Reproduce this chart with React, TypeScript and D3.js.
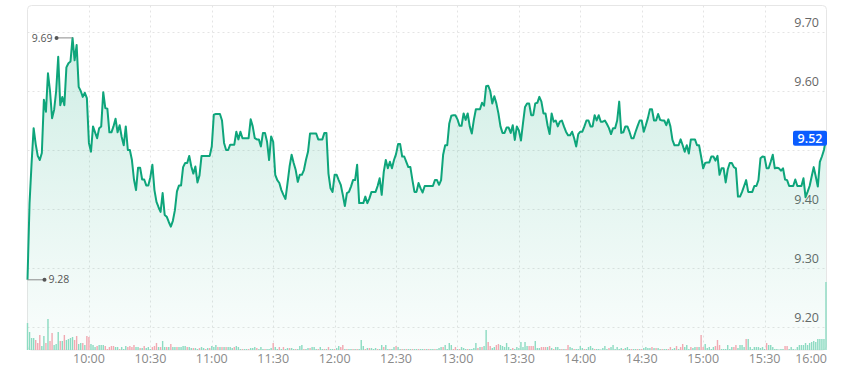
import React from 'react'
import * as d3 from 'd3'

// intraday 1-minute prices, 09:30 .. 16:00
const prices = [
  9.28, 9.41, 9.478, 9.537, 9.51, 9.49, 9.483, 9.495, 9.585, 9.565,
  9.63, 9.60, 9.554, 9.568, 9.60, 9.658, 9.576, 9.59, 9.576, 9.64,
  9.647, 9.65, 9.69, 9.652, 9.678, 9.607, 9.60, 9.59, 9.597, 9.588,
  9.512, 9.497, 9.54, 9.53, 9.52, 9.537, 9.54, 9.598, 9.571, 9.57,
  9.53, 9.53, 9.54, 9.553, 9.53, 9.542, 9.522, 9.508, 9.54, 9.50,
  9.50, 9.483, 9.45, 9.432, 9.47, 9.47, 9.45, 9.45, 9.44, 9.44,
  9.454, 9.475, 9.432, 9.412, 9.403, 9.395, 9.427, 9.39, 9.387, 9.378,
  9.37, 9.38, 9.398, 9.43, 9.44, 9.44, 9.471, 9.478, 9.478, 9.49,
  9.472, 9.46, 9.472, 9.445, 9.457, 9.49, 9.49, 9.49, 9.49, 9.49,
  9.506, 9.56, 9.561, 9.561, 9.561, 9.55, 9.512, 9.50, 9.50, 9.509,
  9.509, 9.509, 9.531, 9.518, 9.531, 9.52, 9.52, 9.52, 9.52, 9.552,
  9.54, 9.52, 9.518, 9.518, 9.506, 9.529, 9.529, 9.514, 9.483, 9.523,
  9.514, 9.458, 9.449, 9.444, 9.432, 9.424, 9.417, 9.444, 9.472, 9.492,
  9.478, 9.466, 9.446, 9.458, 9.458, 9.466, 9.483, 9.497, 9.528, 9.528,
  9.528, 9.528, 9.518, 9.518, 9.518, 9.529, 9.529, 9.46, 9.435, 9.429,
  9.458, 9.458, 9.449, 9.441, 9.424, 9.405, 9.427, 9.429, 9.438, 9.449,
  9.449, 9.475, 9.41, 9.41, 9.41, 9.421, 9.41, 9.418, 9.429, 9.429,
  9.429, 9.439, 9.452, 9.424, 9.463, 9.483, 9.469, 9.48, 9.469, 9.483,
  9.493, 9.51, 9.51, 9.489, 9.489, 9.48, 9.471, 9.471, 9.449, 9.429,
  9.429, 9.444, 9.435, 9.428, 9.439, 9.439, 9.439, 9.439, 9.439, 9.449,
  9.449, 9.441, 9.449, 9.492, 9.508, 9.508, 9.545, 9.558, 9.559, 9.559,
  9.552, 9.541, 9.541, 9.562, 9.551, 9.562, 9.54, 9.528, 9.551, 9.569,
  9.569, 9.569, 9.58, 9.575, 9.608, 9.609, 9.60, 9.579, 9.591, 9.579,
  9.562, 9.54, 9.529, 9.529, 9.538, 9.538, 9.529, 9.542, 9.517, 9.54,
  9.533, 9.516, 9.545, 9.573, 9.579, 9.579, 9.559, 9.559, 9.579, 9.58,
  9.59, 9.582, 9.562, 9.562, 9.542, 9.527, 9.562, 9.548, 9.55, 9.54,
  9.548, 9.55, 9.54, 9.531, 9.525, 9.525, 9.531, 9.52, 9.506, 9.527,
  9.531, 9.531, 9.54, 9.55, 9.55, 9.54, 9.54, 9.559, 9.55, 9.559,
  9.548, 9.548, 9.55, 9.544, 9.537, 9.527, 9.537, 9.537, 9.55, 9.582,
  9.529, 9.53, 9.54, 9.54, 9.531, 9.52, 9.52, 9.531, 9.541, 9.55,
  9.55, 9.531, 9.542, 9.554, 9.569, 9.569, 9.55, 9.55, 9.561, 9.551,
  9.55, 9.55, 9.542, 9.552, 9.54, 9.517, 9.508, 9.508, 9.508, 9.518,
  9.508, 9.497, 9.508, 9.494, 9.518, 9.518, 9.518, 9.508, 9.508, 9.489,
  9.469, 9.478, 9.479, 9.479, 9.489, 9.489, 9.482, 9.49, 9.458, 9.469,
  9.469, 9.445, 9.467, 9.478, 9.478, 9.471, 9.469, 9.421, 9.421, 9.429,
  9.439, 9.449, 9.429, 9.429, 9.429, 9.439, 9.439, 9.449, 9.486, 9.489,
  9.488, 9.469, 9.469, 9.48, 9.492, 9.469, 9.47, 9.469, 9.465, 9.469,
  9.45, 9.449, 9.439, 9.439, 9.439, 9.45, 9.439, 9.439, 9.439, 9.452,
  9.42, 9.429, 9.439, 9.455, 9.471, 9.455, 9.438, 9.48, 9.489, 9.50,
  9.52
]

// volume per minute (thousands); negative = down tick
const volumes = [
  27, 18, 12, 12, -10, -7, -15, 4, 14, -7,
  31, -9, -17, 5, 6, 18, -9, 9, -15, 10,
  11, 12, 13, -10, -14, 6, 7, -7, 5, -14,
  -13, 6, 5, 3, -4, 5, 5, 5, -4, -1,
  -3, -4, -4, 3, 3, -1, 3, 1, 4, -3,
  -4, -3, -5, 3, 3, -2, 2, -4, 2, 3,
  1, -3, -4, -7, 3, -3, 9, 3, -3, 3,
  -6, 3, 3, -3, 3, 3, 4, 4, -3, 3,
  2, -2, 2, 1, -2, 3, 2, -1, 2, -2,
  4, 3, 5, -3, 3, -3, 3, -3, 3, 3,
  2, -3, 4, 3, 1, -1, 1, 1, -1, 2,
  2, 3, -2, 1, 3, 1, -1, 1, 1, 2,
  -7, 3, 1, -3, 1, -3, 1, 2, -2, 2,
  1, -1, 1, 4, 5, -1, 1, 2, -2, 3,
  3, 1, -1, 3, 1, -1, 1, -3, 1, 1,
  -1, 2, 4, -3, -5, 1, -1, 1, 1, -1,
  1, -1, 1, 10, 4, -1, 2, -2, 2, 1,
  2, -1, 1, 5, -3, 5, 1, -1, 1, 3,
  -4, 3, 1, -1, 1, -1, 1, 1, -1, 1,
  1, -1, 1, 1, -1, 1, -1, 1, 1, -1,
  1, 2, 3, -3, 5, 1, 7, 5, -1, -3,
  1, -1, 3, 2, 1, -1, 1, 1, 2, 7,
  -2, 3, -3, 4, 20, -8, -4, 2, 3, -5,
  -6, 5, 4, 3, 7, 3, 1, -2, 1, 3,
  2, 8, 3, 8, 4, -4, -4, -4, 9, 2,
  2, -3, -3, -3, 3, -4, 2, -1, 3, 3,
  1, -1, 1, -1, -5, 3, 2, -1, 1, 1,
  4, 2, -1, 1, 3, 4, 2, -1, 1, 1,
  0.5, 2, 4, 1, -2, 3, 5, 1, 3, 1,
  2, -1, 2, 3, 1, -1, 1, 1, -1, 1,
  -1, 2, 3, 2, 2, -3, 2, -2, 2, 1,
  -1, 1, 1, -1, -3, 1, 2, -4, 1, -3,
  -6, 3, 5, 1, -3, 2, 3, -3, 3, -15,
  -3, 6, 2, 3, 1, 3, -4, -10, -5, 1,
  1, 1, 5, 1, 3, -3, -5, 2, 5, 5,
  3, -11, 11, 3, 1, 3, 3, 3, 2, 3,
  1, -7, 5, 5, 3, 1, 1, 0.5, 1, 1,
  -4, -4, 1, 3, 1, 0.5, 3, 5, 5, 5,
  7, 5, 7, 8, 9, 8, 11, 11, 11, 11,
  68
]

const timeTicks = ['10:00', '10:30', '11:00', '11:30', '12:00', '12:30', '13:00', '13:30', '14:00', '14:30', '15:00', '15:30', '16:00']
const priceTicks = [9.2, 9.3, 9.4, 9.5, 9.6, 9.7]

const W = 849
const H = 371
const left = 27.5
const right = 826.5
const top = 5.5
const bottom = 350
const font = "'Open Sans', 'Noto Sans', sans-serif"
const green = '#0ea57b'

function toMinute (s: string) {
  const [h, m] = s.split(':').map(Number)
  return h * 60 + m - (9 * 60 + 30)
}

export default function App () {
  const x = d3.scaleLinear().domain([0, 390]).range([27.5, 826])
  const y = d3.scaleLinear().domain([9.7, 9.2]).range([32, 327])
  const vy = d3.scaleLinear().domain([0, 68]).range([bottom, 282])

  const line = d3.line<number>().x((d, i) => x(i)).y(d => y(d))
  const area = d3.area<number>().x((d, i) => x(i)).y0(bottom).y1(d => y(d))

  const last = prices[prices.length - 1]
  const hiI = d3.maxIndex(prices)
  const loI = d3.minIndex(prices)

  const marker = (i: number) => {
    const px = x(i)
    const py = y(prices[i])
    const toLeft = px - 40 > left
    const dx = toLeft ? px - 16 : px + 17
    return (
      <g key={'m' + i}>
        <line x1={px} x2={dx} y1={py} y2={py} stroke='#8a8a8a' strokeWidth={1} />
        <circle cx={dx} cy={py} r={2} fill='#555' />
        <text x={toLeft ? dx - 4 : dx + 4} y={py} dy='0.35em' fontSize={10.5} fill='#555'
          textAnchor={toLeft ? 'end' : 'start'} fontFamily={font}>{prices[i].toFixed(2)}</text>
      </g>
    )
  }

  return (
    <svg width={W} height={H} style={{ position: 'absolute', left: 0, top: 0 }}>
      <defs>
        <linearGradient id='fill' gradientUnits='userSpaceOnUse' x1={0} x2={0} y1={38} y2={bottom}>
          <stop offset='0' stopColor='#10a87c' stopOpacity={0.2} />
          <stop offset='1' stopColor='#10a87c' stopOpacity={0.02} />
        </linearGradient>
      </defs>
      <rect x={left} y={top} width={right - left} height={bottom - top} rx={4} fill='#fff' stroke='#e6e6e6' />

      {priceTicks.map(t => (
        <line key={'h' + t} x1={left} x2={right} y1={Math.round(y(t)) + 0.5} y2={Math.round(y(t)) + 0.5}
          stroke='#e4e4e4' strokeDasharray='2 3' />
      ))}
      {timeTicks.slice(0, -1).map(t => (
        <line key={'v' + t} x1={Math.round(x(toMinute(t))) + 0.5} x2={Math.round(x(toMinute(t))) + 0.5}
          y1={top} y2={bottom} stroke='#e4e4e4' strokeDasharray='2 3' />
      ))}

      {priceTicks.filter(t => Math.abs(y(t) - y(last)) > 18).map(t => (
        <text key={'yl' + t} x={819} y={y(t) - 5} textAnchor='end' fontSize={12.5} fill='#666'
          fontFamily={font}>{t.toFixed(2)}</text>
      ))}

      {volumes.map((v, i) => (
        <rect key={'b' + i} x={x(i) - 0.7} width={1.4} y={vy(Math.abs(v))} height={bottom - vy(Math.abs(v))}
          fill={v >= 0 ? '#8fdcc3' : '#f7a9b3'} />
      ))}

      <path d={area(prices) || ''} fill='url(#fill)' />
      <path d={line(prices) || ''} fill='none' stroke={green} strokeWidth={2} strokeLinejoin='round' />

      {marker(hiI)}
      {marker(loI)}

      {timeTicks.map(t => {
        const px = x(toMinute(t))
        const atEnd = px + 16 > right
        return (
          <text key={'xl' + t} x={atEnd ? 827 : px} y={363} textAnchor={atEnd ? 'end' : 'middle'}
            fontSize={12.5} fill='#8a8a8a' fontFamily={font}>{t}</text>
        )
      })}

      <rect x={793} y={y(last) - 7.5} width={34} height={15} rx={2} fill='#0b5cff' />
      <text x={810} y={y(last)} dy='0.35em' textAnchor='middle' fontSize={12.5} fontWeight={600}
        fill='#fff' fontFamily={font}>{last.toFixed(2)}</text>
    </svg>
  )
}
